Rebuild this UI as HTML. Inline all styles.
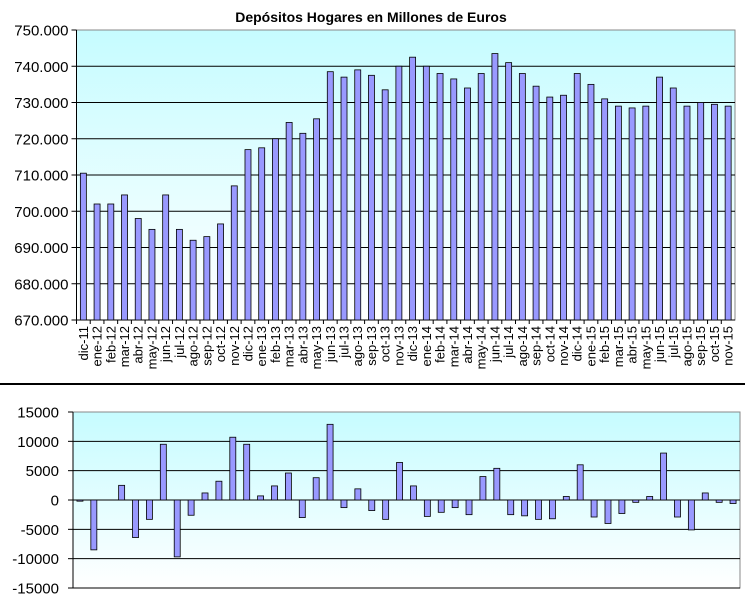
<!DOCTYPE html>
<html><head><meta charset="utf-8"><style>
body{margin:0;background:#fff;width:746px;height:605px;overflow:hidden}
svg{display:block;font-family:"Liberation Sans",Arial,sans-serif}
</style></head><body>
<svg id="s" width="746" height="605" xmlns="http://www.w3.org/2000/svg">
<defs>
<linearGradient id="g" x1="0" y1="0" x2="0" y2="1"><stop offset="0" stop-color="#c6fcff"/><stop offset="1" stop-color="#ffffff"/></linearGradient>
</defs>
<text x="371" y="22" text-anchor="middle" font-weight="bold" font-size="14">Depósitos Hogares en Millones de Euros</text>
<line x1="0" y1="384" x2="745" y2="384" stroke="#000" stroke-width="2"/>
</svg>
<script>
(function(){
const s=document.getElementById('s');const NS='http://www.w3.org/2000/svg';
function el(t,a,txt){const e=document.createElementNS(NS,t);for(const k in a)e.setAttribute(k,a[k]);if(txt!=null)e.textContent=txt;s.appendChild(e);return e;}
const topV=[710.5,702,702,704.5,698,695,704.5,695,692,693,696.5,707,717,717.5,720,724.5,721.5,725.5,738.5,737,739,737.5,733.5,740,742.5,740,738,736.5,734,738,743.5,741,738,734.5,731.5,732,738,735,731,729,728.5,729,737,734,729,730,729.5,729];
const bot=[-200,-8500,0,2500,-6400,-3300,9500,-9700,-2600,1200,3200,10700,9500,700,2400,4600,-3000,3800,12900,-1300,1900,-1800,-3300,6400,2400,-2800,-2100,-1300,-2500,4000,5400,-2500,-2700,-3300,-3200,600,6000,-2900,-4000,-2300,-400,600,8000,-2900,-5100,1200,-400,-600];
const mon=['ene','feb','mar','abr','may','jun','jul','ago','sep','oct','nov','dic'];
const labs=[];for(let i=0;i<48;i++){const m=(11+i)%12;const y=11+Math.floor((11+i)/12);labs.push(mon[m]+'-'+y);}
const L=76.5,R=735,T=30,B=320,cw=(R-L)/48;
el('rect',{x:L,y:T,width:R-L,height:B-T,fill:'url(#g)',stroke:'#888','stroke-width':1});
for(let v=670;v<=750;v+=10){const y=B-(v-670)*(B-T)/80;
 if(v>670&&v<750)el('line',{x1:L,y1:y,x2:R,y2:y,stroke:'#000','stroke-width':1});
 el('line',{x1:L-5,y1:y,x2:L,y2:y,stroke:'#000'});
 el('text',{x:L-8,y:y+5.5,'text-anchor':'end','font-size':'15'},v+'.000');}
el('line',{x1:L,y1:T,x2:L,y2:B,stroke:'#000'});
el('line',{x1:L,y1:B,x2:R,y2:B,stroke:'#000'});
for(let i=0;i<48;i++){const cx=L+cw*(i+0.5);const y=B-(topV[i]-670)*(B-T)/80;
 el('rect',{x:cx-3,y:y,width:6,height:B-y,fill:'#9999ff',stroke:'#000','stroke-width':0.8});
 el('line',{x1:L+cw*i,y1:B,x2:L+cw*i,y2:B+4,stroke:'#000'});
 el('text',{x:0,y:0,transform:'translate('+(cx+4.5)+','+(B+6)+') rotate(-90)','text-anchor':'end','font-size':'13'},labs[i]);}
const L2=73,R2=740,T2=412,B2=588,cw2=(R2-L2)/48,z=(T2+B2)/2,sc=(B2-T2)/30000;
el('rect',{x:L2,y:T2,width:R2-L2,height:B2-T2,fill:'url(#g)',stroke:'#888','stroke-width':1});
for(let v=-15000;v<=15000;v+=5000){const y=z-v*sc;
 if(v>-15000&&v<15000)el('line',{x1:L2,y1:y,x2:R2,y2:y,stroke:'#000','stroke-width':1});
 el('line',{x1:L2-5,y1:y,x2:L2,y2:y,stroke:'#000'});
 el('text',{x:L2-14,y:y+5.5,'text-anchor':'end','font-size':'15'},v);}
el('line',{x1:L2,y1:T2,x2:L2,y2:B2,stroke:'#000'});
el('line',{x1:L2,y1:B2,x2:R2,y2:B2,stroke:'#000'});
for(let i=0;i<48;i++){const cx=L2+cw2*(i+0.5);const v=bot[i];if(v===0)continue;const y1=z-Math.max(v,0)*sc,h=Math.abs(v)*sc;
 el('rect',{x:cx-3,y:y1,width:6,height:Math.max(h,1),fill:'#9999ff',stroke:'#000','stroke-width':0.8});}
})();
</script>
</body></html>
